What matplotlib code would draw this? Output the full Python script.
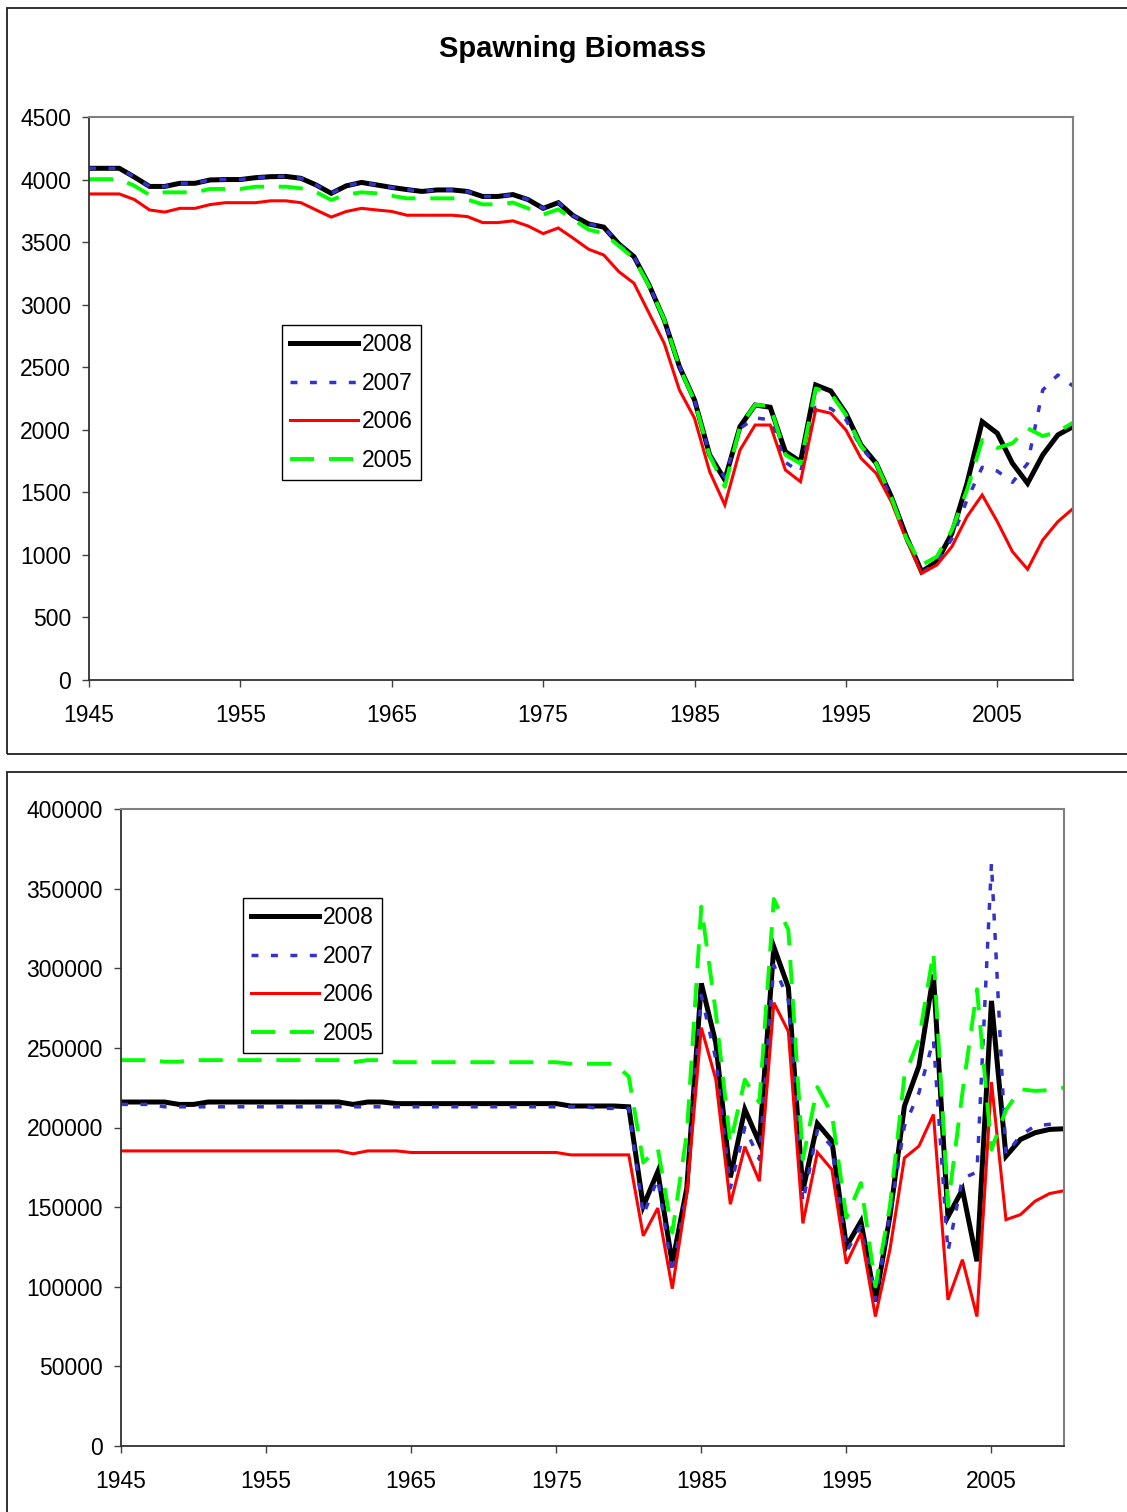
import numpy as np
import matplotlib
matplotlib.use('Agg')
import matplotlib.pyplot as plt
from matplotlib.patches import Rectangle

plt.rcParams['font.family'] = ['Liberation Sans', 'DejaVu Sans']

years = np.arange(1945, 2011)
series_names = ['2008', '2007', '2006', '2005']

# Spawning biomass by assessment year
sb_2008 = [4090, 4090, 4090, 4020, 3945, 3945, 3970, 3970, 3997, 4000,
           4000, 4015, 4023, 4025, 4010, 3957, 3890, 3950, 3977, 3957,
           3937, 3920, 3905, 3917, 3917, 3905, 3865, 3865, 3880, 3840,
           3770, 3815, 3710, 3645, 3620, 3485, 3384, 3157, 2878, 2505,
           2238, 1799, 1600, 2025, 2198, 2180, 1825, 1745, 2358, 2310,
           2132, 1878, 1732, 1465, 1145, 866, 946, 1172, 1572, 2065,
           1972, 1732, 1572, 1799, 1959, 2025]
sb_2007 = [4090, 4090, 4090, 4020, 3945, 3945, 3970, 3970, 3997, 4000,
           4000, 4015, 4023, 4025, 4010, 3957, 3890, 3950, 3977, 3957,
           3937, 3920, 3905, 3917, 3917, 3905, 3865, 3865, 3880, 3840,
           3770, 3815, 3710, 3645, 3620, 3485, 3384, 3157, 2878, 2505,
           2238, 1799, 1620, 2010, 2095, 2080, 1740, 1660, 2180, 2170,
           2080, 1860, 1720, 1450, 1120, 860, 930, 1130, 1440, 1700,
           1670, 1580, 1730, 2318, 2438, 2350]
sb_2006 = [3885, 3885, 3885, 3840, 3757, 3740, 3770, 3770, 3800, 3815,
           3815, 3815, 3830, 3830, 3815, 3757, 3700, 3745, 3770, 3757,
           3745, 3715, 3715, 3715, 3715, 3704, 3656, 3656, 3670, 3629,
           3568, 3613, 3530, 3443, 3397, 3264, 3171, 2931, 2691, 2318,
           2092, 1665, 1399, 1838, 2038, 2038, 1679, 1585, 2160, 2132,
           1998, 1772, 1652, 1425, 1119, 852, 919, 1066, 1306, 1479,
           1266, 1026, 885, 1119, 1266, 1370]
sb_2005 = [4003, 4003, 4003, 3950, 3877, 3898, 3898, 3898, 3925, 3925,
           3925, 3943, 3943, 3943, 3930, 3900, 3837, 3880, 3898, 3890,
           3870, 3850, 3850, 3850, 3850, 3840, 3802, 3802, 3816, 3770,
           3720, 3762, 3680, 3600, 3570, 3470, 3370, 3150, 2880, 2500,
           2230, 1790, 1545, 2025, 2200, 2190, 1800, 1730, 2330, 2290,
           2120, 1870, 1730, 1460, 1130, 920, 986, 1199, 1519, 1918,
           1855, 1892, 2012, 1950, 1985, 2057]

# Recruitment (thousands) by assessment year
rec_2008 = [216, 216, 216, 216, 214.5, 214.5, 216, 216, 216, 216,
            216, 216, 216, 216, 216, 216, 214.5, 216, 216, 215,
            215, 215, 215, 215, 215, 215, 215, 215, 215, 215,
            215, 213.5, 213.5, 213.5, 213.5, 213, 150.6, 172.3, 114.5, 162,
            290.5, 253, 168.7, 211.4, 190.4, 313.4, 288, 160.3, 202.5, 191.6,
            125.3, 141, 90.8, 144.2, 213.4, 238.6, 296, 144, 161, 116,
            279.5, 182, 192.5, 196.7, 198.8, 199.2]
rec_2007 = [214.5, 214.5, 214.5, 213, 213, 213, 213, 213, 213, 213,
            213, 213, 213, 213, 213, 213, 213, 213, 213, 213,
            213, 213, 213, 213, 213, 213, 213, 213, 213, 213,
            213, 213, 213, 212, 212, 212, 145, 168, 108, 160,
            283, 243, 162, 200, 180, 302, 280, 153, 198, 188,
            122, 138, 92, 145, 200.8, 221.8, 255, 122, 168, 172,
            366, 183, 195, 201, 202, 203]
rec_2006 = [185.3, 185.3, 185.3, 185.3, 185.3, 185.3, 185.3, 185.3, 185.3, 185.3,
            185.3, 185.3, 185.3, 185.3, 185.3, 185.3, 183.5, 185.3, 185.3, 185.3,
            184.3, 184.3, 184.3, 184.3, 184.3, 184.3, 184.3, 184.3, 184.3, 184.3,
            184.3, 182.8, 182.8, 182.8, 182.8, 182.8, 132, 149.4, 98.8, 158,
            262.7, 230.2, 151.8, 188, 166.3, 278.4, 260.3, 139.8, 184.4, 173.6,
            114.5, 133.8, 81.3, 123.3, 180.9, 188.3, 208.2, 91.8, 117, 81.3,
            228.5, 142.1, 145.3, 153.7, 158.5, 160.3]
rec_2005 = [242.3, 242.3, 242.3, 241.3, 241.3, 242.3, 242.3, 242.3, 242.3, 242.3,
            242.3, 242.3, 242.3, 242.3, 242.3, 242.3, 241, 242.3, 242.3, 241,
            241, 241, 241, 241, 241, 241, 241, 241, 241, 241,
            241, 240, 240, 240, 240, 232, 178, 187, 134, 196,
            338.7, 272, 190, 230, 215.7, 343.5, 324, 180, 225.4, 208.5,
            143.4, 165.2, 100.2, 150.5, 232.3, 255.3, 309.9, 150.5, 222, 286.8,
            186.2, 211, 224, 223, 223.5, 225]

W, H = 1127, 1512
fig = plt.figure(figsize=(W / 100, H / 100), dpi=100)


def fx(px):
    return px / W


def fy(px):
    return 1 - px / H


styles = [
    dict(color='black', lw=3.6, ls='-'),
    dict(color='#3333CC', lw=2.5, ls=(0, (2.0, 3.6))),
    dict(color='#FF0000', lw=2.2, ls='-'),
    dict(color='#00FF00', lw=2.8, ls=(0, (6.2, 3.8))),
]

FS = 16.5


def panel(rect, data, ymax, ystep, legend_xy):
    l, r, t, b = rect
    ax = fig.add_axes([fx(l), fy(b), fx(r) - fx(l), fy(t) - fy(b)])
    for name, vals, st in zip(series_names, data, styles):
        ax.plot(years, vals, label=name, solid_joinstyle='miter', **st)
    ax.set_xlim(1945, 2010)
    ax.set_ylim(0, ymax)
    ax.set_xticks(np.arange(1945, 2010, 10))
    ax.set_yticks(np.arange(0, ymax + 1, ystep))
    ax.tick_params(direction='out', length=5, width=1, labelsize=FS,
                   color='#404040')
    ax.tick_params(axis='y', pad=8)
    ax.tick_params(axis='x', pad=12)
    for s in ('left', 'bottom'):
        ax.spines[s].set_color('#303030')
        ax.spines[s].set_linewidth(1.3)
    for s in ('top', 'right'):
        ax.spines[s].set_color('#808080')
        ax.spines[s].set_linewidth(1.5)
    leg = ax.legend(loc='upper left', bbox_to_anchor=(fx(legend_xy[0]), fy(legend_xy[1])),
                    bbox_transform=fig.transFigure, borderaxespad=0, fontsize=FS,
                    handlelength=2.95, handletextpad=0.2, labelspacing=0.68,
                    borderpad=0.35, fancybox=False, framealpha=1)
    leg.get_frame().set_edgecolor('black')
    leg.get_frame().set_linewidth(1.0)
    return ax


# top: spawning biomass
panel((89, 1073, 117, 680), [sb_2008, sb_2007, sb_2006, sb_2005], 4500, 500, (282, 325))
# bottom: recruitment
rec = [np.array(v) * 1000 for v in (rec_2008, rec_2007, rec_2006, rec_2005)]
panel((121, 1064, 809, 1446), rec, 400000, 50000, (243, 898))

fig.text(fx(573), fy(49), 'Spawning Biomass', ha='center', va='center',
         fontsize=21, fontweight='bold')

# chart area borders
for top, bot in ((8, 754), (772, 1540)):
    fig.add_artist(Rectangle((fx(7), fy(bot)), fx(1145) - fx(7), fy(top) - fy(bot),
                             transform=fig.transFigure, fill=False, lw=1.3,
                             ec='#202020', clip_on=False))

fig.savefig('out.png', dpi=100)
